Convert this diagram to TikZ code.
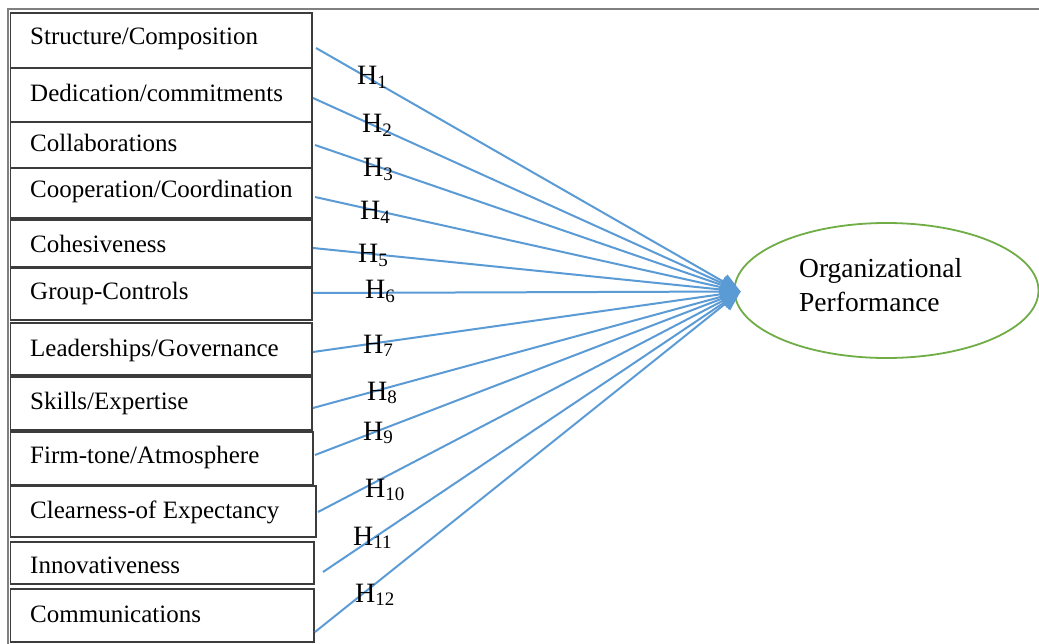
\documentclass[tikz,border=0pt]{standalone}
\usepackage{fontspec}
\setmainfont{Liberation Serif}
\usetikzlibrary{shapes.geometric,arrows.meta,calc}
\definecolor{conncol}{HTML}{5B9BD5}
\definecolor{ellcol}{HTML}{70AD47}
\definecolor{boxcol}{HTML}{3C3C3C}
\definecolor{framecol}{HTML}{808080}
\newcommand{\Hlab}[1]{H\raisebox{-0.12em}{\fontsize{19}{19}\selectfont #1}}
\begin{document}
\begin{tikzpicture}[x=1pt,y=-1pt,
  fbox/.style={draw=boxcol,line width=1.8pt,fill=white},
  ftext/.style={anchor=base west,inner sep=0pt,font=\fontsize{25}{28}\selectfont},
  hlab/.style={anchor=base west,inner sep=0pt,font=\fontsize{28}{30}\selectfont},
  conn/.style={draw=conncol,line width=2pt,-{Triangle[length=20pt,width=16pt]}},
  ell/.style={ellipse,draw=ellcol,line width=1.8pt,minimum width=304pt,minimum height=135pt,inner sep=0pt},
  elltext/.style={inner sep=0pt,align=left,font=\fontsize{27.5}{34}\selectfont}
]
\useasboundingbox (0,0) rectangle (1039,644);
\fill[white] (0,0) rectangle (1039,644);
% frame
\draw[framecol,line width=2.2pt] (8,644) -- (8,9) -- (1039,9);
% boxes
\path[fbox] (10.5,13) rectangle (312,68) coordinate (b1);
\path[fbox] (10.5,68) rectangle (312,122) coordinate (b2);
\path[fbox] (10.5,122) rectangle (312,168) coordinate (b3);
\path[fbox] (10.5,168) rectangle (312,218) coordinate (b4);
\path[fbox] (10.5,220) rectangle (312,267) coordinate (b5);
\path[fbox] (10.5,268) rectangle (312,320) coordinate (b6);
\path[fbox] (10.5,323) rectangle (312,375) coordinate (b7);
\path[fbox] (10.5,377) rectangle (312,430) coordinate (b8);
\path[fbox] (10.5,432) rectangle (313,485) coordinate (b9);
\path[fbox] (10.5,486) rectangle (316,537) coordinate (b10);
\path[fbox] (10.5,542) rectangle (314,584) coordinate (b11);
\path[fbox] (10.5,589) rectangle (314,642) coordinate (b12);
% box texts
\node[ftext] (t1) at (30,45) {Structure/Composition};
\node[ftext] (t2) at (30,102) {Dedication/commitments};
\node[ftext] (t3) at (30,152) {Collaborations};
\node[ftext] (t4) at (30,198) {Cooperation/Coordination};
\node[ftext] (t5) at (30,253) {Cohesiveness};
\node[ftext] (t6) at (30,300) {Group-Controls};
\node[ftext] (t7) at (30,356) {Leaderships/Governance};
\node[ftext] (t8) at (30,409) {Skills/Expertise};
\node[ftext] (t9) at (30,463) {Firm-tone/Atmosphere};
\node[ftext] (t10) at (30,518) {Clearness-of Expectancy};
\node[ftext] (t11) at (30,573) {Innovativeness};
\node[ftext] (t12) at (30,622) {Communications};
% outcome
\node[ell] (op) at (886.5,290.5) {};
\node[elltext,anchor=base west] (opt) at (799,312) {Organizational\\Performance};
\coordinate (tip) at ([xshift=7pt,yshift=-1pt]op.west);
% connector starts
\coordinate (s1) at (316,48);
\coordinate (s2) at (313,98);
\coordinate (s3) at (315,145);
\coordinate (s4) at (315,197);
\coordinate (s5) at (313,248);
\coordinate (s6) at (313,293);
\coordinate (s7) at (313,352);
\coordinate (s8) at (313,408);
\coordinate (s9) at (315,455);
\coordinate (s10) at (318,512);
\coordinate (s11) at (323,572);
\coordinate (s12) at (315,632);
\foreach \i in {1,...,12} { \draw[conn] (s\i) -- (tip); }
% hypothesis labels
\node[hlab] (h1) at (357,85) {\Hlab{1}};
\node[hlab] (h2) at (362,133) {\Hlab{2}};
\node[hlab] (h3) at (363,177) {\Hlab{3}};
\node[hlab] (h4) at (360,220) {\Hlab{4}};
\node[hlab] (h5) at (358,263) {\Hlab{5}};
\node[hlab] (h6) at (365,299) {\Hlab{6}};
\node[hlab] (h7) at (363,353) {\Hlab{7}};
\node[hlab] (h8) at (367,400) {\Hlab{8}};
\node[hlab] (h9) at (363,440) {\Hlab{9}};
\node[hlab] (h10) at (365,497) {\Hlab{10}};
\node[hlab] (h11) at (353,545) {\Hlab{11}};
\node[hlab] (h12) at (355,602) {\Hlab{12}};
\end{tikzpicture}
\end{document}
